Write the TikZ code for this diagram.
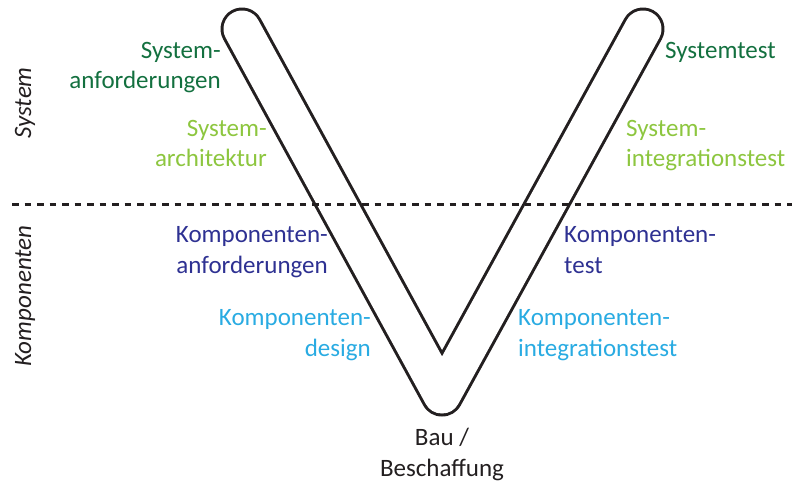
\documentclass[tikz,border=0pt]{standalone}
\usepackage{fontspec}
\setmainfont{Carlito}
\definecolor{dgreen}{HTML}{13703F}
\definecolor{lgreen}{HTML}{8DC63F}
\definecolor{dblue}{HTML}{2E3192}
\definecolor{lblue}{HTML}{29ABE2}
\definecolor{txt}{HTML}{231F20}
\begin{document}
\begin{tikzpicture}[x=1pt,y=-1pt,
  lbl/.style={inner sep=0pt, font=\fontsize{25}{30.5}\selectfont},
  lft/.style={lbl, align=right, anchor=base east},
  rgt/.style={lbl, align=left, anchor=base west},
  side/.style={inner sep=0pt, font=\fontsize{25}{30}\selectfont\itshape, rotate=90, text=txt}]
\useasboundingbox (0,0) rectangle (792,481);
% V shape
\coordinate (tl) at (242,29);
\coordinate (bt) at (442,395);
\coordinate (tr) at (643,29);
\draw[line width=43pt, line cap=round, line join=round, txt] (tl) -- (bt) -- (tr);
\draw[line width=37pt, line cap=round, line join=round, white] (tl) -- (bt) -- (tr);
% dashed separator
\coordinate (dl) at (12,205);
\coordinate (dr) at (792,205);
\draw[line width=3pt, dash pattern=on 6.5pt off 6pt, txt] (dl) -- (dr);
% side labels
\node[side, anchor=base] (sys) at (31,103) {System};
\node[side, anchor=base] (komp) at (31,296) {Komponenten};
% left labels (anchor = baseline of last line)
\node[lft, text=dgreen] (sa) at (221,89) {System-\\anforderungen};
\node[lft, text=lgreen] (sar) at (267,167) {System-\\architektur};
\node[lft, text=dblue] (ka) at (328,273) {Komponenten-\\anforderungen};
\node[lft, text=lblue] (kd) at (371,356) {Komponenten-\\design};
% right labels
\node[rgt, text=dgreen] (st) at (665,59) {Systemtest};
\node[rgt, text=lgreen] (sit) at (626,167) {System-\\integrationstest};
\node[rgt, text=dblue] (kt) at (564,273) {Komponenten-\\test};
\node[rgt, text=lblue] (kit) at (518,356) {Komponenten-\\integrationstest};
% bottom
\node[lbl, align=center, anchor=base, text=txt] (bau) at (442,476) {Bau /\\Beschaffung};
\end{tikzpicture}
\end{document}
